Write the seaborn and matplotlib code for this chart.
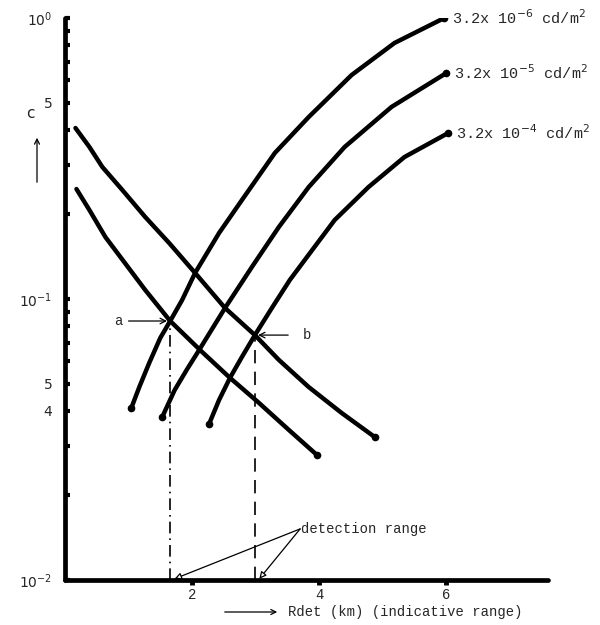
import matplotlib
matplotlib.use("Agg")
import matplotlib.pyplot as plt
import matplotlib.ticker as mticker
import matplotlib.patches as mpatches
import seaborn as sns
import pandas as pd

# ---- data ----
# decreasing curves (apparent target contrast vs range)
upper_R = [0.165, 0.384, 0.588, 0.902, 1.263, 1.639, 2.047, 2.518, 2.988, 3.365, 3.835, 4.353, 4.871]
upper_C = [0.406, 0.3475, 0.2949, 0.2443, 0.1957, 0.1582, 0.1238, 0.0929, 0.0744, 0.0607, 0.0486, 0.0393, 0.0323]
lower_R = [0.180, 0.384, 0.635, 1.263, 1.655, 2.157, 2.596, 3.051, 3.522, 3.961]
lower_C = [0.2463, 0.2073, 0.1662, 0.1076, 0.0835, 0.0648, 0.0524, 0.0427, 0.0342, 0.0279]
# rising curves (threshold contrast at background luminance)
lum6_R = [1.043, 1.169, 1.325, 1.498, 1.655, 1.843, 2.047, 2.424, 2.784, 3.302, 3.835, 4.510, 5.184, 5.969]
lum6_C = [0.0409, 0.0486, 0.0592, 0.0726, 0.0835, 0.0992, 0.1238, 0.1717, 0.2250, 0.3309, 0.4443, 0.6267, 0.8147, 1.0]
lum5_R = [1.529, 1.725, 1.922, 2.110, 2.518, 2.941, 3.365, 3.835, 4.400, 5.137, 6.0]
lum5_C = [0.0380, 0.0474, 0.0563, 0.0658, 0.0929, 0.1300, 0.1804, 0.2503, 0.3475, 0.4824, 0.6370]
lum4_R = [2.267, 2.424, 2.596, 2.784, 2.988, 3.255, 3.537, 3.773, 4.243, 4.776, 5.341, 6.031]
lum4_C = [0.0359, 0.0437, 0.0524, 0.0622, 0.0744, 0.0929, 0.1168, 0.1377, 0.1910, 0.2503, 0.3200, 0.3898]
lum_labels = [r"3.2x 10$^{-6}$ cd/m$^{2}$", r"3.2x 10$^{-5}$ cd/m$^{2}$", r"3.2x 10$^{-4}$ cd/m$^{2}$"]

# detection points a and b
detect_names = ["a", "b"]
detect_R = [1.655, 2.988]
detect_C = [0.0835, 0.0744]

ytick_vals = [1.0, 0.5, 0.1, 0.05, 0.04, 0.01]
ytick_labels = [r"$10^{0}$", "5", r"$10^{-1}$", "5", "4", r"$10^{-2}$"]
xtick_vals = [2, 4, 6]
xtick_labels = ["2", "4", "6"]

# ---- build table ----
frames = []
for name, R, C in [("upper", upper_R, upper_C), ("lower", lower_R, lower_C),
                   ("lum6", lum6_R, lum6_C), ("lum5", lum5_R, lum5_C), ("lum4", lum4_R, lum4_C)]:
    frames.append(pd.DataFrame({"R": R, "C": C, "curve": name}))
df = pd.concat(frames, ignore_index=True)

sns.set_style("white")
plt.rcParams['font.family'] = ['DejaVu Sans']
mono = "Liberation Mono"

fig = plt.figure(figsize=(6.0, 6.25), dpi=100)
ax = fig.add_axes([65/600, 45/625, 483/600, 562/625])

sns.lineplot(data=df, x="R", y="C", hue="curve", units="curve", estimator=None,
             sort=False, palette={k: "black" for k in df["curve"].unique()},
             linewidth=3.2, legend=False, ax=ax, solid_capstyle="round",
             solid_joinstyle="round")
# dots at the free ends of curves
for R, C in [(lum6_R, lum6_C), (lum5_R, lum5_C), (lum4_R, lum4_C)]:
    ax.plot([R[0]], [C[0]], "o", color="black", ms=4.5)
    ax.plot([R[-1]], [C[-1]], "o", color="black", ms=4.5)
ax.plot([upper_R[-1], lower_R[-1]], [upper_C[-1], lower_C[-1]], "o", color="black", ms=4.5)

ax.set_yscale("log")
ax.set_xlim(0, 7.6)
ax.set_ylim(0.01, 1.0)

# vertical detection lines
ax.plot([detect_R[0], detect_R[0]], [0.01, detect_C[0]], color="black", lw=1.2,
        linestyle=(0, (7, 3, 1, 3)))
ax.plot([detect_R[1], detect_R[1]], [0.01, detect_C[1]], color="black", lw=1.2,
        linestyle=(0, (8, 5)))

# labels a / b
ax.annotate("a", xy=(detect_R[0] - 0.05, detect_C[0]), xytext=(detect_R[0] - 0.75, detect_C[0]),
            va="center", ha="right", fontsize=10, family=mono,
            arrowprops=dict(arrowstyle="->", lw=0.9, color="black", shrinkA=2, shrinkB=0))
ax.annotate("b", xy=(detect_R[1] + 0.05, detect_C[1]), xytext=(detect_R[1] + 0.75, detect_C[1]),
            va="center", ha="left", fontsize=10, family=mono,
            arrowprops=dict(arrowstyle="->", lw=0.9, color="black", shrinkA=8, shrinkB=0))

# detection range
txt_xy = (3.72, 0.0152)
ax.text(txt_xy[0], txt_xy[1], "detection range", fontsize=10, family=mono,
        va="center", ha="left")
for R in detect_R:
    ax.annotate("", xy=(R + 0.07, 0.0101), xytext=(txt_xy[0] - 0.02, txt_xy[1]),
                arrowprops=dict(arrowstyle="-|>", lw=0.9, color="black", fc="white",
                                mutation_scale=10, shrinkA=0, shrinkB=0))

# luminance labels at curve ends
for R, C, lab in [(lum6_R, lum6_C, lum_labels[0]), (lum5_R, lum5_C, lum_labels[1]),
                  (lum4_R, lum4_C, lum_labels[2])]:
    ax.text(R[-1] + 0.12, C[-1], lab, fontsize=11, family=mono, va="center",
            ha="left", clip_on=False)

# axes styling
for s in ["top", "right"]:
    ax.spines[s].set_visible(False)
for s in ["left", "bottom"]:
    ax.spines[s].set_linewidth(3.4)
    ax.spines[s].set_color("black")
    ax.spines[s].set_capstyle("round")

ax.yaxis.set_major_locator(mticker.FixedLocator(ytick_vals))
ax.yaxis.set_major_formatter(mticker.FixedFormatter(ytick_labels))
ax.yaxis.set_minor_locator(mticker.LogLocator(base=10, subs=[2, 3, 4, 5, 6, 7, 8, 9]))
ax.yaxis.set_minor_formatter(mticker.NullFormatter())
ax.tick_params(axis="y", which="both", left=True, direction="in", length=3.5, width=3,
               color="black", labelsize=10, pad=9)
ax.set_xticks(xtick_vals)
ax.set_xticklabels(xtick_labels, family=mono, fontsize=10)
ax.tick_params(axis="x", which="both", bottom=True, direction="out", length=3.5, width=3.5,
               color="black", pad=2)
ax.set_xlabel("")
ax.set_ylabel("")

# y axis label "c" with arrow
fig.text(30/600, 1 - 113/625, "c", fontsize=11, ha="center", va="center")
fig.patches.append(mpatches.FancyArrowPatch(
    (37/600, 1 - 185/625), (37/600, 1 - 135/625), transform=fig.transFigure,
    arrowstyle="->", mutation_scale=9, lw=0.9, color="black"))

# x axis label with arrow
fig.patches.append(mpatches.FancyArrowPatch(
    (222/600, 1 - 612/625), (280/600, 1 - 612/625), transform=fig.transFigure,
    arrowstyle="->", mutation_scale=9, lw=0.9, color="black"))
fig.text(288/600, 1 - 612/625, "Rdet (km) (indicative range)", fontsize=10,
         family=mono, ha="left", va="center")

fig.savefig("out.png", dpi=100, facecolor="white")
